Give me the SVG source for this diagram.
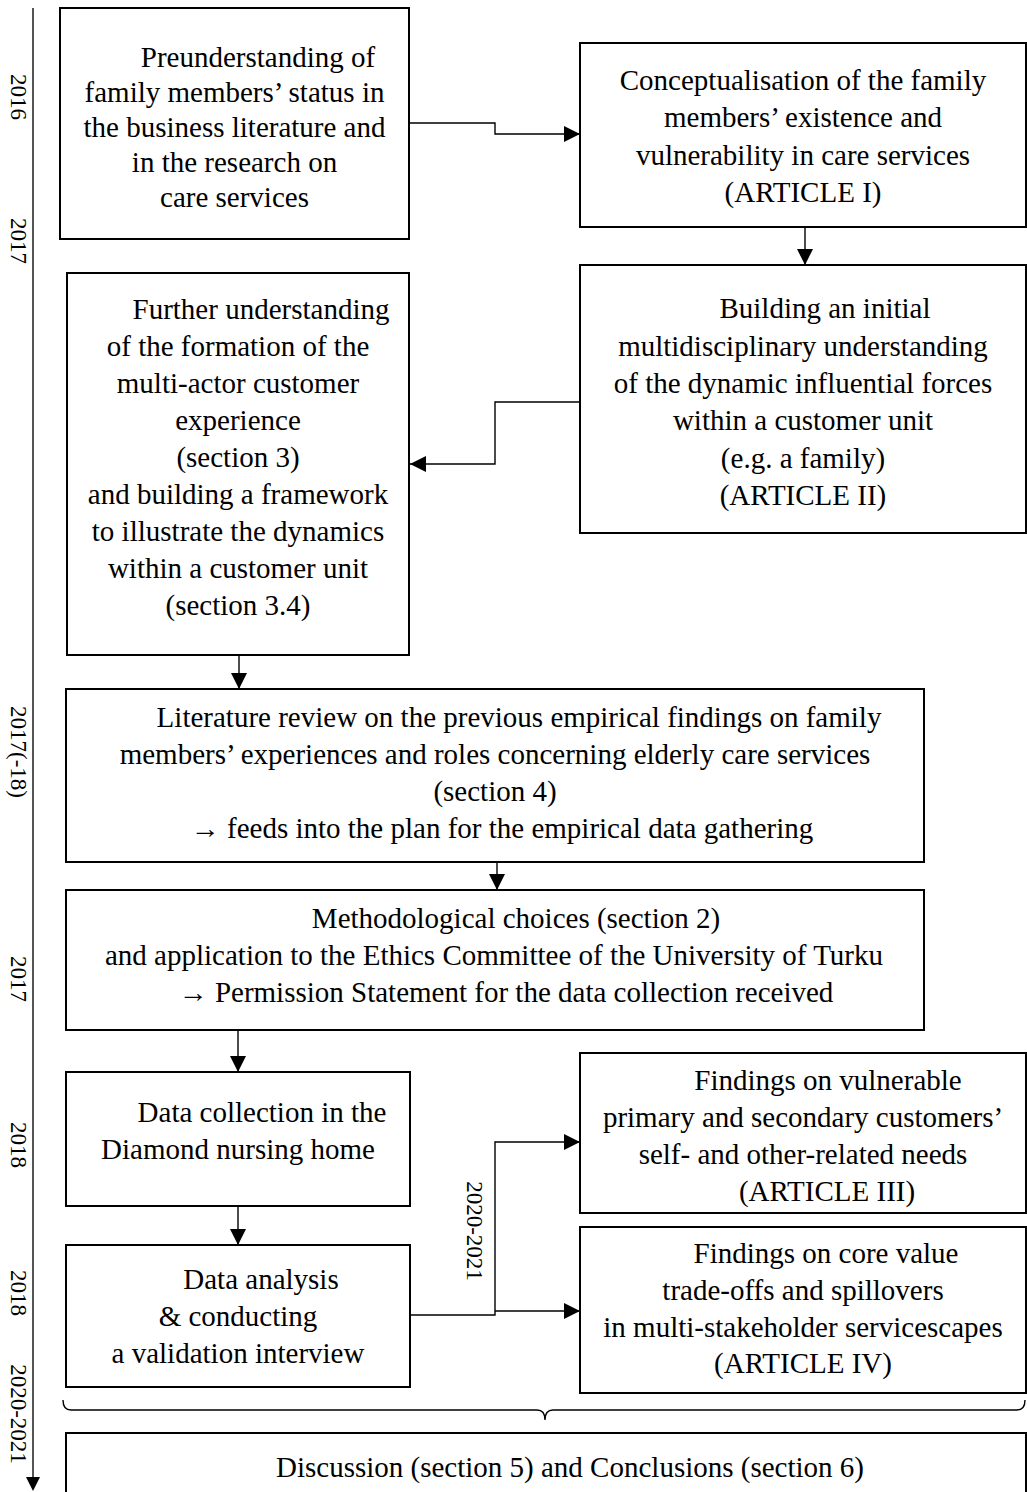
<svg xmlns="http://www.w3.org/2000/svg" width="1027" height="1492" viewBox="0 0 1027 1492">
<style>
.box{fill:#fff;stroke:#000;stroke-width:2}
.t{font-family:"Liberation Serif","Times New Roman",serif;font-size:29px;fill:#000;text-anchor:middle}
.yr{font-family:"Liberation Serif","Times New Roman",serif;font-size:23px;fill:#000;text-anchor:middle}
.c{fill:none;stroke:#000;stroke-width:1.4}
</style>
<defs>
<marker id="ah" markerUnits="userSpaceOnUse" markerWidth="16" markerHeight="16" viewBox="0 0 15 15" refX="15" refY="7.5" orient="auto">
<path d="M0,0 L15,7.5 L0,15 Z" fill="#000"/>
</marker>
</defs>
<rect width="1027" height="1492" fill="#fff"/>

<g id="timeline">
<line x1="33" y1="8" x2="33" y2="1478" stroke="#555" stroke-width="2"/>
<path d="M26,1477 L40,1477 L33,1491 Z" fill="#000"/>
<text class="yr" transform="translate(11,97) rotate(90)">2016</text>
<text class="yr" transform="translate(11,241) rotate(90)">2017</text>
<text class="yr" transform="translate(11,752) rotate(90)">2017(-18)</text>
<text class="yr" transform="translate(11,979) rotate(90)">2017</text>
<text class="yr" transform="translate(11,1145) rotate(90)">2018</text>
<text class="yr" transform="translate(11,1293) rotate(90)">2018</text>
<text class="yr" transform="translate(11,1414) rotate(90)">2020-2021</text>
</g>

<g id="n-preunderstanding">
<rect class="box" x="60" y="8" width="349" height="231"/>
<text class="t" x="258" y="67">Preunderstanding of</text>
<text class="t" x="234.5" y="102">family members’ status in</text>
<text class="t" x="234.5" y="137">the business literature and</text>
<text class="t" x="234.5" y="172">in the research on</text>
<text class="t" x="234.5" y="207">care services</text>
</g>

<g id="n-article1">
<rect class="box" x="580" y="43" width="446" height="184"/>
<text class="t" x="803" y="90">Conceptualisation of the family</text>
<text class="t" x="803" y="127">members’ existence and</text>
<text class="t" x="803" y="165">vulnerability in care services</text>
<text class="t" x="803" y="202">(ARTICLE I)</text>
</g>

<g id="n-article2">
<rect class="box" x="580" y="265" width="446" height="268"/>
<text class="t" x="825" y="318">Building an initial</text>
<text class="t" x="803" y="356">multidisciplinary understanding</text>
<text class="t" x="803" y="393">of the dynamic influential forces</text>
<text class="t" x="803" y="430">within a customer unit</text>
<text class="t" x="803" y="468">(e.g. a family)</text>
<text class="t" x="803" y="505">(ARTICLE II)</text>
</g>

<g id="n-further">
<rect class="box" x="67" y="273" width="342" height="382"/>
<text class="t" x="261" y="319">Further understanding</text>
<text class="t" x="238" y="356">of the formation of the</text>
<text class="t" x="238" y="393">multi-actor customer</text>
<text class="t" x="238" y="430">experience</text>
<text class="t" x="238" y="467">(section 3)</text>
<text class="t" x="238" y="504">and building a framework</text>
<text class="t" x="238" y="541">to illustrate the dynamics</text>
<text class="t" x="238" y="578">within a customer unit</text>
<text class="t" x="238" y="615">(section 3.4)</text>
</g>

<g id="n-literature">
<rect class="box" x="66" y="689" width="858" height="173"/>
<text class="t" x="519" y="727">Literature review on the previous empirical findings on family</text>
<text class="t" x="495" y="764">members’ experiences and roles concerning elderly care services</text>
<text class="t" x="495" y="801">(section 4)</text>
<text class="t" x="502" y="838">→ feeds into the plan for the empirical data gathering</text>
</g>

<g id="n-method">
<rect class="box" x="66" y="890" width="858" height="140"/>
<text class="t" x="516" y="928">Methodological choices (section 2)</text>
<text class="t" x="494" y="965">and application to the Ethics Committee of the University of Turku</text>
<text class="t" x="506" y="1002">→ Permission Statement for the data collection received</text>
</g>

<g id="n-datacollection">
<rect class="box" x="66" y="1072" width="344" height="134"/>
<text class="t" x="262" y="1122">Data collection in the</text>
<text class="t" x="238" y="1159">Diamond nursing home</text>
</g>

<g id="n-dataanalysis">
<rect class="box" x="66" y="1245" width="344" height="142"/>
<text class="t" x="261" y="1289">Data analysis</text>
<text class="t" x="238" y="1326">&amp; conducting</text>
<text class="t" x="238" y="1363">a validation interview</text>
</g>

<g id="n-article3">
<rect class="box" x="580" y="1053" width="446" height="160"/>
<text class="t" x="828" y="1090">Findings on vulnerable</text>
<text class="t" x="803" y="1127">primary and secondary customers’</text>
<text class="t" x="803" y="1164">self- and other-related needs</text>
<text class="t" x="827" y="1201">(ARTICLE III)</text>
</g>

<g id="n-article4">
<rect class="box" x="580" y="1227" width="446" height="166"/>
<text class="t" x="826" y="1263">Findings on core value</text>
<text class="t" x="803" y="1300">trade-offs and spillovers</text>
<text class="t" x="803" y="1337">in multi-stakeholder servicescapes</text>
<text class="t" x="803" y="1373">(ARTICLE IV)</text>
</g>

<g id="n-discussion">
<rect class="box" x="66" y="1433" width="960" height="80"/>
<text class="t" x="570" y="1477">Discussion (section 5) and Conclusions (section 6)</text>
</g>

<g id="connectors">
<polyline class="c" points="409,123 495,123 495,134 580,134" marker-end="url(#ah)"/>
<line class="c" x1="805" y1="227" x2="805" y2="265" marker-end="url(#ah)"/>
<polyline class="c" points="580,402 495,402 495,464 410,464" marker-end="url(#ah)"/>
<line class="c" x1="239" y1="655" x2="239" y2="689" marker-end="url(#ah)"/>
<line class="c" x1="497" y1="862" x2="497" y2="890" marker-end="url(#ah)"/>
<line class="c" x1="238" y1="1030" x2="238" y2="1072" marker-end="url(#ah)"/>
<line class="c" x1="238" y1="1206" x2="238" y2="1245" marker-end="url(#ah)"/>
<polyline class="c" points="410,1315 495,1315 495,1142 580,1142" marker-end="url(#ah)"/>
<polyline class="c" points="495,1311 580,1311" marker-end="url(#ah)"/>
<path class="c" d="M63,1400 Q63,1410 71,1410 L537,1410 Q545,1410 545,1420 Q545,1410 553,1410 L1017,1410 Q1025,1410 1025,1400"/>
<text class="yr" transform="translate(467,1231) rotate(90)">2020-2021</text>
</g>
</svg>
